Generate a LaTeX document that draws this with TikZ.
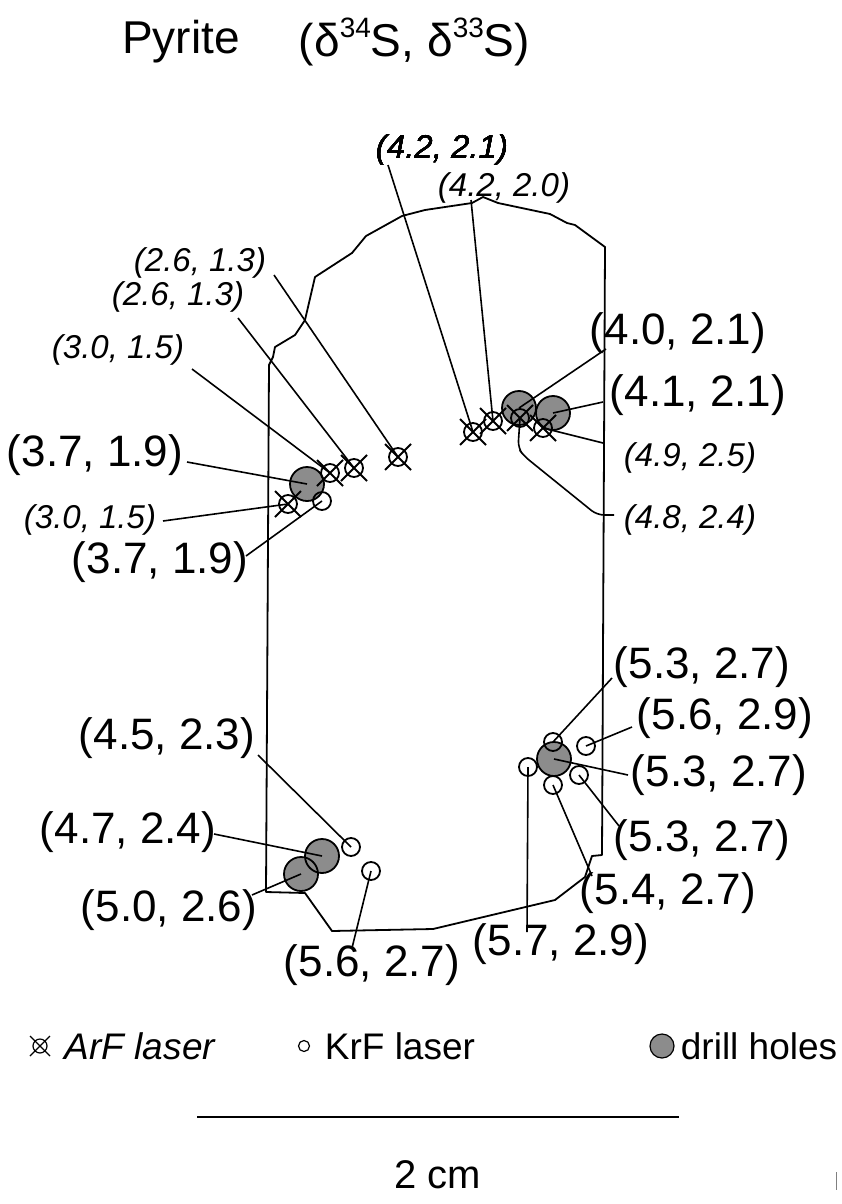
\documentclass[tikz,border=0pt]{standalone}
\usepackage{fontspec}
\setmainfont{Liberation Sans}
\definecolor{drillgray}{RGB}{140,140,140}
\newcommand\supnum[1]{\raisebox{0.42em}{\fontsize{28}{30}\selectfont #1}}
\begin{document}
\begin{tikzpicture}[x=1pt,y=-1pt, line width=1.8pt, line join=round,
  lab/.style={font=\fontsize{44}{48}\selectfont, inner sep=0},
  ilab/.style={font=\fontsize{33}{36}\selectfont\itshape, inner sep=0},
  legtext/.style={font=\fontsize{37}{40}\selectfont, anchor=west, inner sep=0},
  krf/.style={circle, draw, minimum size=18pt, inner sep=0},
  arf/.style={circle, draw, minimum size=18pt, inner sep=0},
  drill/.style={circle, fill=drillgray, minimum size=34pt, inner sep=0},
  drillring/.style={circle, draw, minimum size=34pt, inner sep=0},
  lead/.style={line width=1.6pt}]
\useasboundingbox (0,0) rectangle (841,1204);
\newcommand\arfx[2]{\draw (#1.center) +(-#2,-#2) -- +(#2,#2) (#1.center) +(#2,-#2) -- +(-#2,#2);}
% title
\node[font=\fontsize{46}{50}\selectfont, inner sep=0] (t1) at (181,42) {Pyrite};
\node[font=\fontsize{46}{50}\selectfont, inner sep=0, anchor=west] (t2) at (298,42) {(δ\supnum{34}S, δ\supnum{33}S)};
% outline
\draw (266,892) -- (269,365) -- (273,357) -- (275,347) -- (295,335) -- (305,320) -- (315,277)
  -- (352,253) -- (366,236) -- (402,216) -- (425,210) -- (472,203) -- (483,197) -- (498,203)
  -- (550,214) -- (567,223) -- (575,225) -- (605,247) -- (602,855) -- (592,856) -- (585,877)
  -- (555,900) -- (433,929) -- (332,931) -- (305,893) -- cycle;
% drill holes
\foreach \n/\p in {d1/{(307,484)}, d2/{(519,408)}, d3/{(553,413)}, d4/{(554,759)}, d5/{(322,856)}, d6/{(301,874)}}
  \node[drill] (\n) at \p {};
\foreach \n in {d1,d2,d3,d4,d5,d6} \node[drillring] at (\n) {};
% KrF
\node[krf] (k1) at (322,501) {};
\node[krf] (k2) at (553,742) {};
\node[krf] (k3) at (586,746) {};
\node[krf] (k4) at (528,767) {};
\node[krf] (k5) at (553,785) {};
\node[krf] (k6) at (579,775) {};
\node[krf] (k7) at (351,847) {};
\node[krf] (k8) at (371,871) {};
% ArF
\node[arf] (a1) at (473,432) {};
\node[arf] (a2) at (493,421) {};
\node[arf] (a3) at (330,473) {};
\node[arf] (a4) at (354,468) {};
\node[arf] (a5) at (398,457) {};
\node[arf] (a6) at (288,504) {};
\node[arf] (a7) at (520,418) {};
\node[arf] (a8) at (543,428) {};
\foreach \n in {a1,a2,a3,a4,a5,a6,a7,a8} \arfx{\n}{13}
% labels
\node[ilab] (l1) at (442,150) {(4.2, 2.1)};
\node[ilab] (l2) at (504,188) {(4.2, 2.0)};
\node[ilab] (l3) at (200,263) {(2.6, 1.3)};
\node[ilab] (l4) at (178,297) {(2.6, 1.3)};
\node[ilab] (l5) at (118,350) {(3.0, 1.5)};
\node[ilab] (l6) at (90,520) {(3.0, 1.5)};
\node[ilab] (l7) at (690,458) {(4.9, 2.5)};
\node[ilab] (l8) at (690,520) {(4.8, 2.4)};
\node[lab] (m1) at (95,455) {(3.7, 1.9)};
\node[lab] (m2) at (160,562) {(3.7, 1.9)};
\node[lab] (m3) at (678,333) {(4.0, 2.1)};
\node[lab] (m4) at (698,395) {(4.1, 2.1)};
\node[lab] (m5) at (702,667) {(5.3, 2.7)};
\node[lab] (m6) at (725,718) {(5.6, 2.9)};
\node[lab] (m7) at (719,775) {(5.3, 2.7)};
\node[lab] (m8) at (702,840) {(5.3, 2.7)};
\node[lab] (m9) at (668,893) {(5.4, 2.7)};
\node[lab] (m10) at (561,944) {(5.7, 2.9)};
\node[lab] (m11) at (167,738) {(4.5, 2.3)};
\node[lab] (m12) at (128,832) {(4.7, 2.4)};
\node[lab] (m13) at (169,910) {(5.0, 2.6)};
\node[lab] (m14) at (372,965) {(5.6, 2.7)};
% leader start points
\coordinate (s1) at (388,165);
\coordinate (s2) at (471,200);
\coordinate (s3) at (274,275);
\coordinate (s4) at (238,318);
\coordinate (s5) at (192,369);
\coordinate (s6) at (163,521);
\coordinate (s7) at (603,443);
\coordinate (s8) at (614,515);
\coordinate (n1) at (187,462);
\coordinate (n2) at (246,556);
\coordinate (n3) at (606,349);
\coordinate (n4) at (603,402);
\coordinate (n5) at (612,678);
\coordinate (n6) at (632,727);
\coordinate (n7) at (628,775);
\coordinate (n8) at (619,826);
\coordinate (n9) at (592,876);
\coordinate (n10) at (527,932);
\coordinate (n11) at (258,755);
\coordinate (n12) at (214,834);
\coordinate (n13) at (252,895);
\coordinate (n14) at (352,948);
% leaders
\begin{scope}[lead]
\draw (s1) -- (a1.center);
\draw (s2) -- (a2.center);
\draw (s3) -- (a5.center);
\draw (s4) -- (a4.center);
\draw (s5) -- (a3.center);
\draw (s6) -- (a6.center);
\draw (s7) -- (a8.center);
\draw[rounded corners=7] (a7.center) -- (518,448) -- (524,456) -- (597,515) -- (s8);
\draw (n1) -- (d1.center);
\draw (n2) -- (k1.center);
\draw (n3) -- (d2.center);
\draw (n4) -- (d3.center);
\draw (n5) -- (k2.center);
\draw (n6) -- (k3.center);
\draw (n7) -- (d4.center);
\draw (n8) -- (k6.center);
\draw (n9) -- (k5.center);
\draw (n10) -- (k4.center);
\draw (n11) -- (k7.center);
\draw (n12) -- (d5.center);
\draw (n13) -- (d6.center);
\draw (n14) -- (k8.center);
\end{scope}
% legend
\node[circle, draw, minimum size=14pt, inner sep=0, line width=1.2pt] (ga) at (40,1046) {};
\draw[line width=1.2pt] (ga.center) +(-10,-10) -- +(10,10) (ga.center) +(10,-10) -- +(-10,10);
\node[legtext, font=\fontsize{37}{40}\selectfont\itshape] (gat) at (64,1046) {ArF laser};
\node[circle, draw, minimum size=11pt, inner sep=0, line width=1.2pt] (gk) at (304,1046) {};
\node[legtext] (gkt) at (324,1046) {KrF laser};
\node[circle, draw, fill=drillgray, minimum size=24pt, inner sep=0, line width=1.2pt] (gd) at (662,1046) {};
\node[legtext] (gdt) at (680,1046) {drill holes};
% scale bar
\coordinate (sb1) at (197,1117);
\coordinate (sb2) at (679,1117);
\draw[line width=2pt] (sb1) -- (sb2);
\node[font=\fontsize{40}{42}\selectfont, inner sep=0] (sbt) at (438,1175) {2 cm};
\draw[line width=1pt, gray] (836,1172) -- (836,1190);
\end{tikzpicture}
\end{document}
